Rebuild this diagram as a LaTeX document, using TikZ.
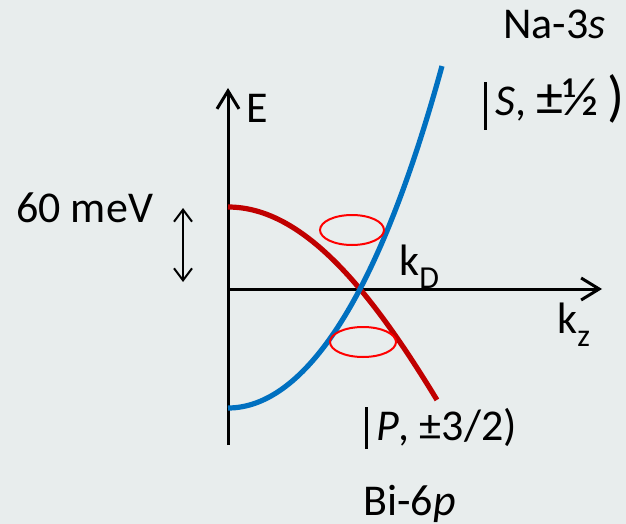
\documentclass[tikz,border=0pt]{standalone}
\usepackage{fontspec}
\setmainfont{Carlito}
\usetikzlibrary{arrows.meta}
\definecolor{bgcol}{HTML}{E8EDED}
\definecolor{bandred}{HTML}{C00000}
\definecolor{bandblue}{HTML}{0070C0}
\newcommand{\ketbar}[2]{\rule[-#1]{1.4pt}{#2}\hspace{4pt}}
\newcommand{\lowsub}[1]{\raisebox{-6.5pt}{\fontsize{16}{18}\selectfont #1}}

\begin{document}
\begin{tikzpicture}[x=0.5pt,y=-0.5pt,
  axis/.style={line width=1.5pt,-{Straight Barb[length=9pt,width=11pt]}},
  gap/.style={line width=1pt,{Straight Barb[length=6pt,width=9pt]}-{Straight Barb[length=6pt,width=9pt]}},
  band/.style={line width=2.6pt},
  ring/.style={red,line width=1pt},
  lbl/.style={font=\fontsize{22}{26}\selectfont,inner sep=0pt,anchor=base west}]
  % background and frame
  \fill[bgcol] (0,0) rectangle (626,524);
  \useasboundingbox (0,0) rectangle (626,524);
  % axes
  \coordinate (O) at (228,289);
  \coordinate (Ebot) at (228,445);
  \coordinate (Etop) at (228,88);
  \coordinate (kend) at (602,289);
  \draw[axis] (Ebot) -- (Etop);
  \draw[axis] (O) -- (kend);
  % bands
  \draw[band,bandred] plot[domain=0:2.09,samples=60,smooth] ({228+100*\x},{207+48.98*\x*\x-1.099*\x^4});
  \draw[band,bandblue] plot[domain=0:2.14,samples=60,smooth] ({228+100*\x},{408-64.38*\x*\x-2.247*\x^4});
  % Fermi surface rings
  \draw[ring] (352,230) ellipse [x radius=16pt, y radius=7.5pt];
  \draw[ring] (363,342) ellipse [x radius=16.5pt, y radius=7.5pt];
  % energy scale
  \coordinate (gtop) at (183,208);
  \coordinate (gbot) at (183,282);
  \draw[gap] (gtop) -- (gbot);
  % labels
  \node[lbl] (na) at (503,39) {Na-3\textit{s}};
  \node[lbl] (sstate) at (484,116) {\ketbar{7pt}{24pt}\textit{S}, {\fontsize{27}{30}\selectfont ±½}\hspace{4pt}{\fontsize{28}{30}\selectfont )}};
  \node[lbl] (elbl) at (246,122) {E};
  \node[lbl] (mev) at (16,222) {60 meV};
  \node[lbl] (kd) at (399,275) {k\lowsub{D}};
  \node[lbl] (kz) at (557,333) {k\lowsub{z}};
  \node[lbl] (pstate) at (365,440) {\ketbar{4.5pt}{21pt}\textit{P}, ±3/2)};
  \node[lbl] (bi) at (363,515) {Bi-6\textit{p}};
\end{tikzpicture}
\end{document}
